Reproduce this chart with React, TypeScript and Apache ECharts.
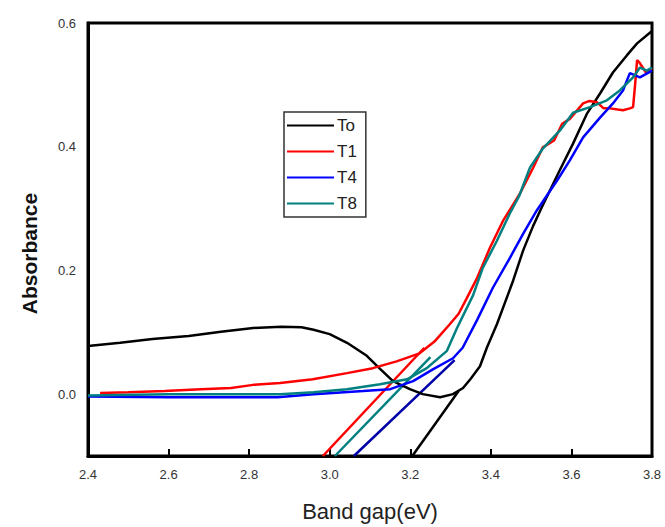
import React, { useEffect, useRef } from "react";
import * as echarts from "echarts";

const seriesNames = ["To", "T1", "T4", "T8"];
const seriesColors = ["#000000", "#ff0000", "#0000ff", "#008080"];

const toData: number[][] = [
  [2.4, 0.078], [2.48, 0.083], [2.56, 0.089], [2.65, 0.094], [2.73, 0.101],
  [2.81, 0.107], [2.88, 0.109], [2.93, 0.108], [2.96, 0.104], [3.0, 0.097],
  [3.043, 0.083], [3.092, 0.062], [3.125, 0.041], [3.157, 0.021], [3.199, 0.008],
  [3.231, 0.0], [3.274, -0.005], [3.306, 0.0], [3.331, 0.01], [3.35, 0.025],
  [3.373, 0.045], [3.39, 0.075], [3.415, 0.113], [3.435, 0.148], [3.455, 0.183],
  [3.48, 0.232], [3.505, 0.272], [3.525, 0.3], [3.571, 0.362], [3.604, 0.405],
  [3.639, 0.454], [3.671, 0.486], [3.703, 0.52], [3.738, 0.548], [3.763, 0.567],
  [3.8, 0.587],
];

const t1Data: number[][] = [
  [2.43, 0.002], [2.5, 0.003], [2.59, 0.005], [2.68, 0.008], [2.755, 0.01],
  [2.81, 0.015], [2.877, 0.018], [2.958, 0.024], [3.043, 0.034], [3.107, 0.042],
  [3.166, 0.053], [3.223, 0.066], [3.26, 0.085], [3.298, 0.113], [3.32, 0.13],
  [3.341, 0.156], [3.366, 0.188], [3.398, 0.237], [3.43, 0.28], [3.472, 0.324],
  [3.505, 0.366], [3.529, 0.399], [3.557, 0.41], [3.577, 0.437], [3.596, 0.445],
  [3.629, 0.47], [3.645, 0.474], [3.663, 0.472], [3.68, 0.462], [3.696, 0.462],
  [3.715, 0.46], [3.728, 0.459], [3.745, 0.462], [3.753, 0.464], [3.758, 0.5],
  [3.763, 0.54], [3.77, 0.535], [3.785, 0.52], [3.8, 0.527],
];

const t4Data: number[][] = [
  [2.4, -0.004], [2.6, -0.005], [2.87, -0.005], [2.96, 0.0], [3.083, 0.005],
  [3.15, 0.008], [3.207, 0.021], [3.256, 0.04], [3.306, 0.058], [3.33, 0.075],
  [3.366, 0.12], [3.405, 0.172], [3.447, 0.22], [3.48, 0.259], [3.514, 0.297],
  [3.564, 0.345], [3.596, 0.378], [3.629, 0.415], [3.671, 0.447], [3.703, 0.47],
  [3.728, 0.491], [3.745, 0.519], [3.77, 0.512], [3.8, 0.523],
];

const t8Data: number[][] = [
  [2.4, -0.002], [2.6, 0.0], [2.8, 0.0], [2.877, 0.0], [2.96, 0.003],
  [3.043, 0.008], [3.125, 0.016], [3.192, 0.024], [3.241, 0.042], [3.291, 0.07],
  [3.316, 0.107], [3.356, 0.16], [3.38, 0.204], [3.415, 0.248], [3.447, 0.292],
  [3.47, 0.32], [3.497, 0.366], [3.529, 0.397], [3.571, 0.426], [3.604, 0.455],
  [3.646, 0.464], [3.688, 0.475], [3.72, 0.491], [3.753, 0.512], [3.77, 0.528],
  [3.787, 0.523], [3.8, 0.528],
];

const toTangent: number[][] = [[3.205, -0.1], [3.32, 0.005]];
const t1Tangent: number[][] = [[2.983, -0.1], [3.235, 0.075]];
const t4Tangent: number[][] = [[3.06, -0.1], [3.31, 0.055]];
const t8Tangent: number[][] = [[3.013, -0.1], [3.25, 0.06]];
const tangentColors = ["#000000", "#ff0000", "#0000a8", "#008080"];

const xTicks = { min: 2.4, max: 3.8, interval: 0.2 };
const yTicks = { min: -0.1, max: 0.6, interval: 0.1 };

export default function App() {
  const ref = useRef<HTMLDivElement>(null);
  useEffect(() => {
    document.body.style.margin = "0";
    if (!ref.current) return;
    const chart = echarts.init(ref.current, undefined, { renderer: "svg" });
    const curves = [toData, t1Data, t4Data, t8Data];
    const tangents = [toTangent, t1Tangent, t4Tangent, t8Tangent];
    const series: any[] = [];
    tangents.forEach((d, i) => {
      series.push({
        name: seriesNames[i] + " fit",
        type: "line",
        data: d,
        symbol: "none",
        lineStyle: { color: tangentColors[i], width: 2.5 },
        itemStyle: { color: tangentColors[i] },
        z: 2,
      });
    });
    curves.forEach((d, i) => {
      series.push({
        name: seriesNames[i],
        type: "line",
        data: d,
        symbol: "none",
        lineStyle: { color: seriesColors[i], width: 2.5 },
        itemStyle: { color: seriesColors[i] },
        z: 3,
      });
    });
    chart.setOption({
      animation: false,
      backgroundColor: "#ffffff",
      grid: {
        left: 88,
        top: 23,
        right: 13,
        bottom: 70,
        show: true,
        borderColor: "#000",
        borderWidth: 3,
      },
      legend: {
        data: seriesNames,
        orient: "vertical",
        left: 284,
        top: 112,
        padding: [5, 9, 5, 2],
        itemWidth: 47,
        itemHeight: 14,
        itemGap: 9,
        itemStyle: { opacity: 0 },
        borderColor: "#333",
        borderWidth: 1.5,
        textStyle: { fontSize: 17, color: "#222", fontFamily: "Liberation Sans, Arial", padding: [0, 0, 0, -2] },
      },
      xAxis: {
        type: "value",
        min: xTicks.min,
        max: xTicks.max,
        interval: xTicks.interval,
        name: "Band gap(eV)",
        nameLocation: "middle",
        nameGap: 44,
        nameTextStyle: { fontSize: 22, color: "#222", fontFamily: "Liberation Sans, Arial" },
        axisLine: { onZero: false, lineStyle: { color: "#000", width: 3 } },
        axisTick: { inside: true, length: 7, lineStyle: { color: "#000", width: 2 } },
        splitLine: { show: false },
        axisLabel: {
          margin: 12,
          fontSize: 13,
          color: "#333",
          fontFamily: "Liberation Sans, Arial",
          formatter: (v: number) => v.toFixed(1),
        },
      },
      yAxis: {
        type: "value",
        min: yTicks.min,
        max: yTicks.max,
        interval: yTicks.interval,
        name: "Absorbance",
        nameLocation: "middle",
        nameGap: 48,
        nameRotate: 90,
        nameTextStyle: {
          fontSize: 21,
          fontWeight: "bold",
          color: "#111",
          fontFamily: "Liberation Sans, Arial",
          padding: [0, 28, 0, 0],
        },
        axisLine: { show: true, onZero: false, lineStyle: { color: "#000", width: 3 } },
        axisTick: { show: false },
        splitLine: { show: false },
        axisLabel: {
          margin: 12,
          fontSize: 13,
          color: "#333",
          fontFamily: "Liberation Sans, Arial",
          formatter: (v: number) => {
            const k = Math.round(v * 10);
            return k % 2 === 0 ? (k / 10).toFixed(1) : "";
          },
        },
      },
      series,
    });
    return () => chart.dispose();
  }, []);
  return <div ref={ref} style={{ width: 665, height: 527 }} />;
}
